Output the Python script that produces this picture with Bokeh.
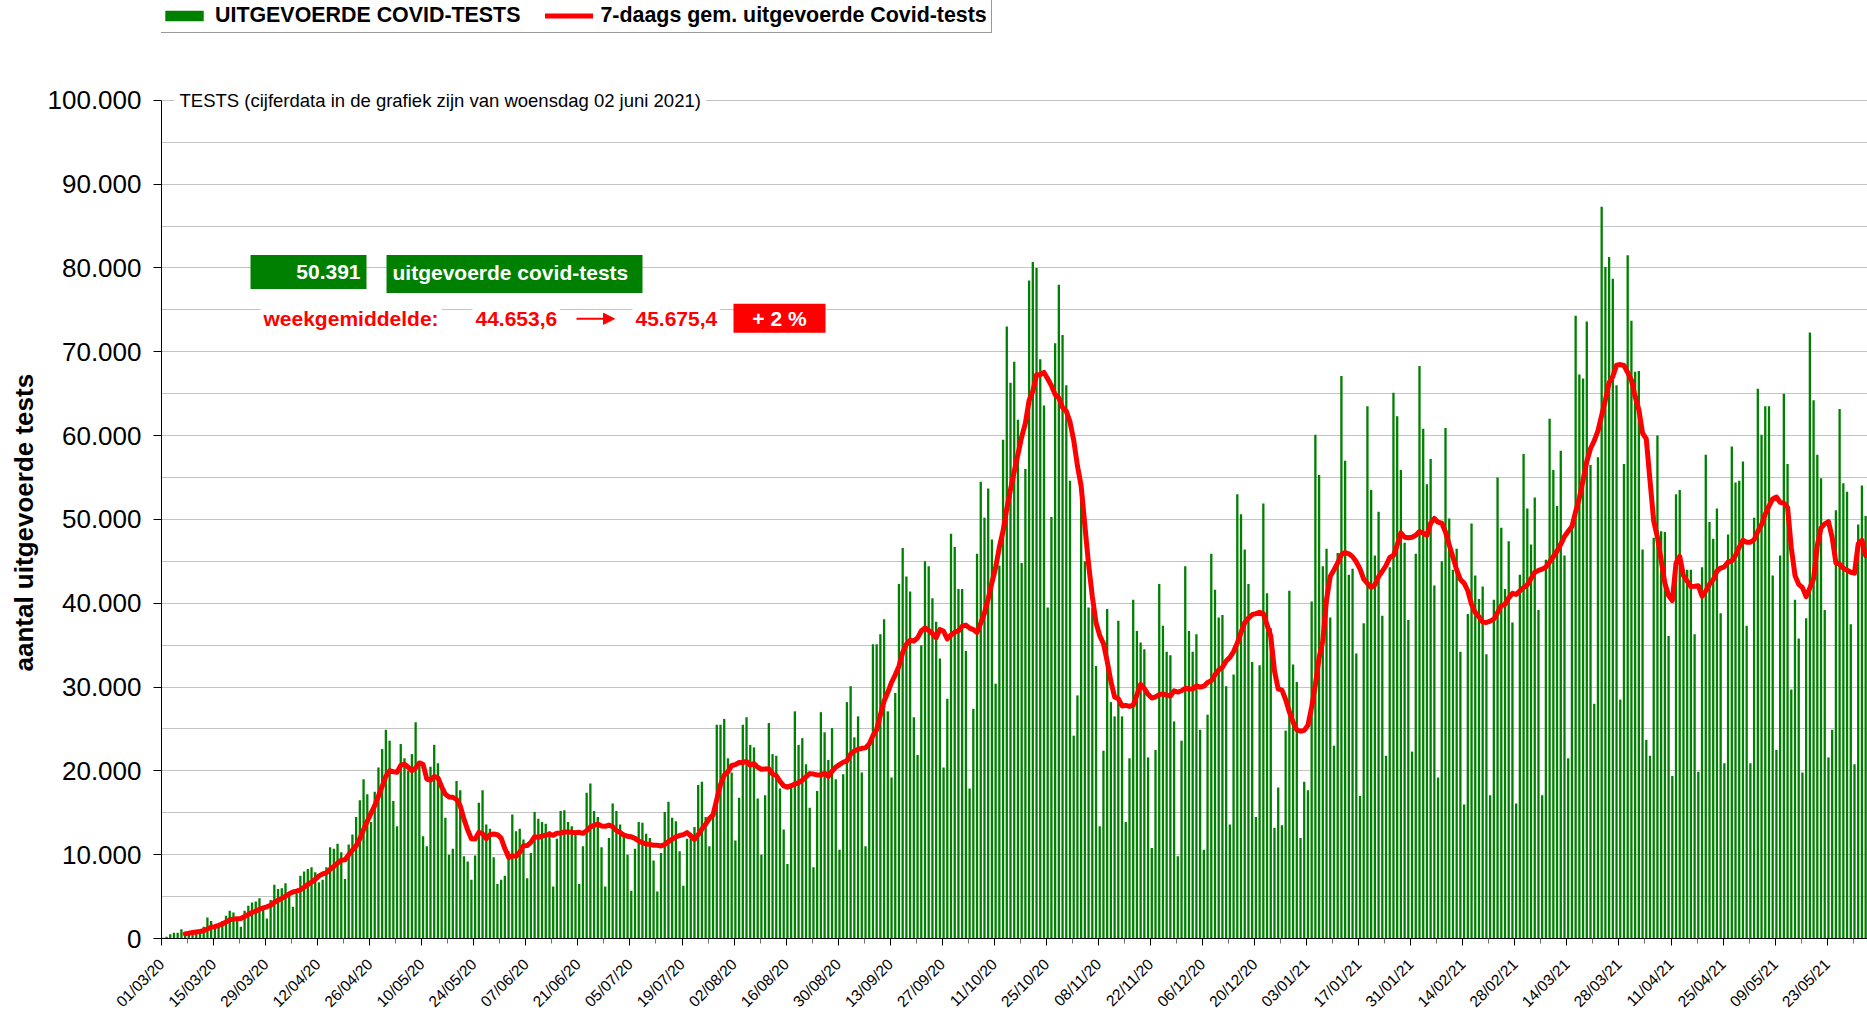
import numpy as np
import pandas as pd
from math import pi
from bokeh.plotting import figure
from bokeh.models import (Range1d, FixedTicker, Label, BoxAnnotation, Arrow, Title,
                          NormalHead, Legend, LegendItem, ColumnDataSource)
from bokeh.embed import file_html
from bokeh.resources import INLINE

# ---------------- data (daily number of tests, in thousands) ----------------
start_date = "2020-03-01"
tests_2020_03 = [0.1, 0.2, 0.5, 0.7, 0.7, 1.1, 0.6, 0.7, 0.7, 0.9, 1.1, 1.4, 2.5, 2.1, 1.2, 1.7,
                 2.1, 2.7, 3.3, 3.1, 2.4, 1.4, 3.3, 3.9, 4.3, 4.4, 4.8, 3.4, 2.4, 4.6, 6.4]
tests_2020_04 = [5.9, 6.0, 6.6, 5.5, 3.8, 5.4, 7.5, 8.0, 8.3, 8.5, 7.9, 6.7, 7.0, 8.5, 10.9,
                 10.7, 11.3, 10.3, 7.1, 11.2, 12.4, 14.5, 16.5, 19.0, 17.2, 13.9, 17.5, 20.4, 22.6, 24.9]
tests_2020_05 = [23.6, 16.4, 13.4, 23.2, 21.5, 20.0, 22.0, 25.8, 20.7, 12.2, 11.0, 20.5, 23.1, 20.9,
                 18.3, 14.4, 10.0, 10.7, 18.8, 17.7, 9.8, 9.2, 7.0, 9.9, 16.2, 17.7, 13.6, 13.1, 9.7, 6.5, 7.0]
tests_2020_06 = [7.5, 10.4, 14.8, 12.8, 13.1, 11.8, 7.2, 10.2, 15.1, 14.3, 13.9, 13.7, 12.8, 6.2, 11.9,
                 15.2, 15.3, 13.9, 13.4, 12.5, 6.5, 11.0, 17.4, 18.5, 15.2, 14.5, 10.9, 6.2, 12.0, 16.1]
tests_2020_07 = [15.2, 13.6, 12.3, 10.0, 5.7, 10.7, 13.9, 13.8, 12.5, 12.0, 9.3, 5.6, 10.2, 15.1, 16.3,
                 14.4, 14.0, 10.4, 6.3, 11.9, 12.5, 13.3, 18.3, 18.7, 14.5, 11.0, 15.0, 25.5, 25.5, 26.2, 21.5]
tests_2020_08 = [19.8, 11.7, 16.8, 25.5, 26.4, 23.1, 22.8, 16.7, 10.0, 17.1, 25.7, 22.0, 21.8, 17.9, 13.0,
                 8.9, 18.3, 27.1, 23.1, 23.9, 20.8, 15.6, 8.5, 17.6, 27.0, 24.6, 21.3, 25.1, 19.0, 10.6, 19.6]
tests_2020_09 = [28.2, 30.1, 24.0, 26.5, 19.8, 11.0, 22.9, 35.1, 35.1, 36.3, 38.1, 27.1, 19.2, 29.3, 42.3,
                 46.6, 43.2, 41.4, 26.4, 21.9, 35.0, 45.0, 44.4, 40.6, 37.8, 33.4, 20.4, 28.6, 48.3, 46.7]
tests_2020_10 = [41.7, 41.7, 34.3, 17.9, 27.4, 45.9, 54.5, 50.2, 53.7, 47.6, 30.4, 44.5, 59.5, 73.0, 66.3,
                 68.8, 61.9, 44.8, 56.0, 78.5, 80.7, 80.0, 69.1, 63.6, 39.5, 50.3, 71.0, 78.0, 72.0, 66.0, 54.6]
tests_2020_11 = [24.2, 29.0, 54.1, 45.0, 39.5, 39.4, 32.5, 13.4, 22.4, 39.3, 28.2, 26.5, 37.9, 26.5, 13.9,
                 21.5, 40.4, 36.7, 35.3, 34.5, 21.6, 10.8, 22.5, 42.3, 37.3, 34.2, 33.8, 25.9, 9.8, 23.6]
tests_2020_12 = [44.4, 36.7, 34.2, 36.3, 24.9, 10.6, 26.7, 45.9, 41.6, 38.3, 38.6, 30.1, 13.6, 31.5, 53.0,
                 50.6, 46.4, 42.3, 33.0, 14.5, 32.6, 51.9, 41.2, 37.0, 13.2, 18.0, 13.5, 24.8, 41.5, 32.7, 30.6]
tests_2021_01 = [12.0, 18.7, 17.7, 40.2, 60.1, 55.3, 44.4, 46.5, 38.3, 23.0, 46.0, 67.1, 57.0, 43.4, 44.1,
                 34.0, 17.0, 37.6, 63.5, 53.5, 45.7, 50.9, 38.5, 21.8, 44.3, 65.1, 62.3, 55.9, 47.2, 38.0, 22.3]
tests_2021_02 = [45.9, 68.3, 60.8, 54.2, 57.2, 42.1, 19.2, 45.0, 60.9, 50.1, 44.0, 46.5, 34.2, 16.0, 38.7,
                 49.5, 43.3, 40.5, 42.0, 33.9, 17.1, 40.4, 55.0, 49.0, 41.7, 47.4, 37.7, 16.1]
tests_2021_03 = [43.4, 57.8, 51.3, 47.0, 52.6, 39.2, 17.1, 45.2, 62.0, 55.9, 51.6, 58.2, 45.7, 21.5, 49.2,
                 74.3, 67.3, 66.8, 73.6, 56.5, 28.0, 57.4, 87.3, 80.1, 81.3, 78.7, 66.0, 28.5, 56.6, 81.5, 73.7]
tests_2021_04 = [67.6, 67.7, 46.4, 23.7, 21.8, 47.8, 60.0, 48.6, 48.5, 36.1, 19.4, 53.0, 53.5, 43.9, 44.0,
                 44.0, 36.3, 19.9, 44.3, 57.7, 49.7, 47.7, 51.3, 38.8, 20.9, 48.2, 58.7, 54.4, 54.6, 56.9]
tests_2021_05 = [37.3, 20.9, 50.2, 65.6, 60.1, 63.5, 63.5, 43.3, 22.5, 45.7, 65.0, 56.6, 29.7, 40.4, 35.8,
                 19.8, 38.2, 72.3, 64.2, 57.7, 54.9, 39.2, 21.6, 24.9, 51.1, 63.175, 54.3, 53.3, 37.5, 20.8, 49.4]
tests_2021_06 = [54.037, 50.391]

tick_labels = ["01/03/20", "15/03/20", "29/03/20", "12/04/20", "26/04/20", "10/05/20", "24/05/20",
               "07/06/20", "21/06/20", "05/07/20", "19/07/20", "02/08/20", "16/08/20", "30/08/20",
               "13/09/20", "27/09/20", "11/10/20", "25/10/20", "08/11/20", "22/11/20", "06/12/20",
               "20/12/20", "03/01/21", "17/01/21", "31/01/21", "14/02/21", "28/02/21", "14/03/21",
               "28/03/21", "11/04/21", "25/04/21", "09/05/21", "23/05/21"]
y_ticks = [0, 10000, 20000, 30000, 40000, 50000, 60000, 70000, 80000, 90000, 100000]
y_tick_labels = ["0", "10.000", "20.000", "30.000", "40.000", "50.000", "60.000", "70.000",
                 "80.000", "90.000", "100.000"]

legend_bars = "UITGEVOERDE COVID-TESTS"
legend_line = "7-daags gem. uitgevoerde Covid-tests"
subtitle = "TESTS (cijferdata in de grafiek zijn van woensdag 02 juni 2021)"
last_value_text = "50.391"
last_value_caption = "uitgevoerde covid-tests"
avg_caption = "weekgemiddelde:"
avg_prev_text = "44.653,6"
avg_now_text = "45.675,4"
change_text = "+ 2 %"
y_title = "aantal uitgevoerde tests"

# ---------------- derived series ----------------
tests_k = (tests_2020_03 + tests_2020_04 + tests_2020_05 + tests_2020_06 + tests_2020_07 +
           tests_2020_08 + tests_2020_09 + tests_2020_10 + tests_2020_11 + tests_2020_12 +
           tests_2021_01 + tests_2021_02 + tests_2021_03 + tests_2021_04 + tests_2021_05 +
           tests_2021_06)
tests = np.array(tests_k) * 1000.0
dates = pd.date_range(start_date, periods=len(tests), freq="D")
day = np.asarray((dates - dates[0]).days, dtype=float)
avg7 = pd.Series(tests).rolling(7).mean().values
ok = ~np.isnan(avg7)

t0 = pd.Timestamp(start_date)
tick_pos = [int((pd.to_datetime(s, format="%d/%m/%y") - t0).days) for s in tick_labels]
minor_pos = [t + 7 for t in tick_pos]
y_minor = [t + 5000 for t in y_ticks[:-1]]

# ---------------- layout constants (page pixels) ----------------
FONT = "Liberation Sans"
W, H = 1867, 1019
PX0, PY0 = 161, 940          # page position of (day 0, value 0)
SX = 3.718                   # px per day
SY = 0.0084                  # px per test
X_END = (W - PX0) / SX
Y_END = PY0 / SY
BAR_OFF = 0.35


def dx(px):
    return (px - PX0) / SX


def dy(py):
    return (PY0 - py) / SY


p = figure(width=W, height=H, output_backend="svg", toolbar_location=None,
           x_range=Range1d(0, X_END), y_range=Range1d(0, Y_END),
           min_border_left=PX0, min_border_right=0, min_border_top=0,
           min_border_bottom=H - PY0)
p.outline_line_color = None
p.background_fill_color = "white"
p.border_fill_color = "white"

# grid
p.xgrid.visible = False
yt = FixedTicker(ticks=y_ticks, minor_ticks=y_minor)
p.ygrid[0].ticker = yt
p.ygrid.grid_line_color = "#C4C4C4"
p.ygrid.grid_line_width = 1
p.ygrid.minor_grid_line_color = "#C4C4C4"
p.ygrid.minor_grid_line_width = 1

# y axis
ya = p.yaxis[0]
ya.ticker = yt
ya.bounds = (0, 100000)
ya.major_label_overrides = {t: s for t, s in zip(y_ticks, y_tick_labels)}
ya.major_label_text_font = FONT
ya.major_label_text_font_size = "26px"
ya.major_label_text_color = "black"
ya.major_tick_out = 8
ya.major_tick_in = 0
ya.minor_tick_out = 0
ya.minor_tick_in = 0
ya.major_label_standoff = 12
ya.axis_line_color = "black"
ya.major_tick_line_color = "black"

# y title: starts (bottom end) 267 px above the x axis
p.add_layout(Title(text=y_title, align="left", offset=267, text_font=FONT,
                   text_font_size="26px", text_font_style="bold", text_color="black",
                   standoff=12), "left")

# x axis
xa = p.xaxis[0]
xa.ticker = FixedTicker(ticks=tick_pos, minor_ticks=minor_pos)
xa.major_label_overrides = {t: s for t, s in zip(tick_pos, tick_labels)}
xa.major_label_orientation = pi / 4
xa.major_label_text_font = FONT
xa.major_label_text_font_size = "15.5px"
xa.major_label_text_color = "black"
xa.major_tick_out = 7
xa.major_tick_in = 0
xa.minor_tick_out = 5
xa.minor_tick_in = 0
xa.minor_tick_line_color = "#707070"
xa.major_tick_line_color = "black"
xa.major_label_standoff = 16
xa.axis_line_color = "black"

# bars and 7-day average
bar_src = ColumnDataSource(dict(x=day + BAR_OFF, top=tests))
r_bars = p.vbar(x="x", top="top", width=0.62, source=bar_src,
                fill_color="#008000", line_color=None)
line_src = ColumnDataSource(dict(x=day[ok] + BAR_OFF, y=avg7[ok]))
r_line = p.line(x="x", y="y", source=line_src, line_color="#FF0000", line_width=5,
                line_join="round", line_cap="round")

# legend
legend = Legend(items=[LegendItem(label=legend_bars, renderers=[r_bars]),
                       LegendItem(label=legend_line, renderers=[r_line])],
                orientation="horizontal", location=(-6, PY0 - 4 - 31), margin=0, padding=4,
                glyph_width=48, glyph_height=13, label_standoff=7, spacing=25,
                label_text_font=FONT, label_text_font_style="bold",
                label_text_font_size="21.4px", label_text_color="black",
                border_line_color="#333333", border_line_width=1,
                background_fill_color="white", background_fill_alpha=1)
p.add_layout(legend, "center")

# subtitle on the 100.000 line
p.add_layout(Label(x=dx(174), y=100000, text=subtitle, text_font=FONT,
                   text_font_size="18.5px", text_color="black", text_baseline="middle",
                   text_align="left", background_fill_color="white", padding=5))

# boxes with latest value
GREEN = "#008000"
RED = "#FF0000"
p.add_layout(BoxAnnotation(left=dx(250), right=dx(366), top=dy(255), bottom=dy(289),
                           fill_color=GREEN, fill_alpha=1, line_color=None))
p.add_layout(BoxAnnotation(left=dx(386), right=dx(642), top=dy(255), bottom=dy(293),
                           fill_color=GREEN, fill_alpha=1, line_color=None))
p.add_layout(Label(x=dx(360), y=dy(272), text=last_value_text, text_font=FONT,
                   text_font_size="21px", text_font_style="bold", text_color="white",
                   text_align="right", text_baseline="middle"))
p.add_layout(Label(x=dx(392), y=dy(273), text=last_value_caption, text_font=FONT,
                   text_font_size="21px", text_font_style="bold", text_color="white",
                   text_align="left", text_baseline="middle"))

ROW = dy(319)
for px, txt in [(260, avg_caption), (472, avg_prev_text), (632, avg_now_text)]:
    p.add_layout(Label(x=dx(px), y=ROW, text=txt, text_font=FONT, text_font_size="21px",
                       text_font_style="bold", text_color=RED, text_align="left",
                       text_baseline="middle", background_fill_color="white", padding=3))
p.add_layout(Arrow(x_start=dx(576), y_start=ROW, x_end=dx(614), y_end=ROW,
                   line_color=RED, line_width=2,
                   end=NormalHead(size=11, fill_color=RED, line_color=RED)))
p.add_layout(BoxAnnotation(left=dx(733), right=dx(825), top=dy(304), bottom=dy(333),
                           fill_color=RED, fill_alpha=1, line_color=None))
p.add_layout(Label(x=dx(779), y=ROW, text=change_text, text_font=FONT, text_font_size="21px",
                   text_font_style="bold", text_color="white", text_align="center",
                   text_baseline="middle"))

open("out.html", "w").write(file_html(p, INLINE))
